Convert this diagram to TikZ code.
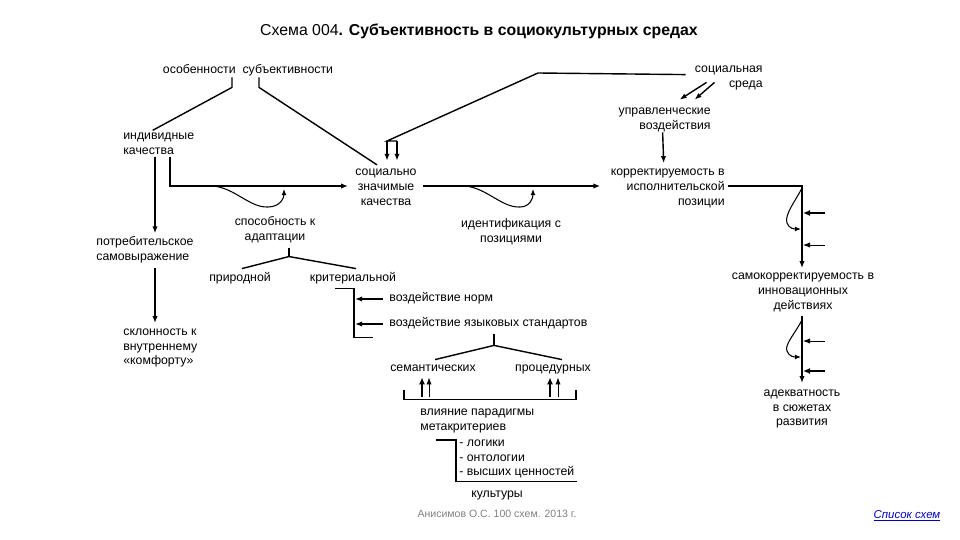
\documentclass[tikz,border=0pt]{standalone}
\usepackage{fontspec}
\setmainfont{Liberation Sans}
\usetikzlibrary{positioning, arrows.meta, calc}

\begin{document}
\begin{tikzpicture}[x=0.02cm, y=-0.02cm,
  lbl/.style={inner sep=0pt, font=\fontsize{7}{8.5}\selectfont, align=center},
  lbll/.style={lbl, align=left},
  lblr/.style={lbl, align=right},
  oneline/.style={lbl, text height=5.3pt, text depth=1.6pt},
  link/.style={line width=0.8pt},
  arr/.style={link, -{Latex[length=4pt, width=3pt]}},
  fatarr/.style={line width=1.5pt, -{Latex[length=4pt, width=3.5pt]}},
  slimarr/.style={line width=0.5pt, -{Latex[length=4pt, width=3pt]}},
  loop/.style={line width=0.6pt, -{Latex[length=3.5pt, width=2.8pt]}},
]
  \useasboundingbox (0,0) rectangle (960,540);

  % Title
  \node[lbl, font=\fontsize{9}{10}\selectfont] (title) at (479,31)
    {Схема 004\textbf{. Субъективность в социокультурных средах}};

  % Labels
  \node[oneline] (osob) at (248,70) {особенности\ \ субъективности};
  \node[lblr, anchor=east] (sreda) at (763,78) {социальная\\среда};
  \node[lblr, anchor=east] (upr) at (711,120) {управленческие\\воздействия};
  \node[lbll, anchor=west] (ind) at (123,143.5) {индивидные\\качества};
  \node[lbl] (soczn) at (386,187.5) {социально\\значимые\\качества};
  \node[lblr, anchor=east] (korr) at (725,188) {корректируемость в\\исполнительской\\позиции};
  \node[lbll, anchor=west] (potr) at (96,250) {потребительское\\самовыражение};
  \node[lbll, anchor=west] (sklon) at (123,348) {склонность к\\внутреннему\\«комфорту»};
  \node[lbl] (adapt) at (275,230) {способность к\\адаптации};
  \node[oneline] (prir) at (240,278) {природной};
  \node[oneline] (krit) at (353,278) {критериальной};
  \node[lbl] (ident) at (511,231.5) {идентификация с\\позициями};
  \node[oneline, anchor=west] (norm) at (389,298) {воздействие норм};
  \node[oneline, anchor=west] (lang) at (389,323) {воздействие языковых стандартов};
  \node[oneline] (sem) at (433,368) {семантических};
  \node[oneline] (proc) at (553,368) {процедурных};
  \node[lbll, anchor=west] (vliyan) at (420,420.5) {влияние парадигмы\\метакритериев};
  \node[lbll, anchor=west, font=\fontsize{7}{8.2}\selectfont] (meta) at (459,459)
    {- логики\\- онтологии\\- высших ценностей};
  \node[oneline] (kult) at (497,494) {культуры};
  \node[lbl] (samok) at (803,292) {самокорректируемость в\\инновационных\\действиях};
  \node[lbl] (adekv) at (802,409) {адекватность\\в сюжетах\\развития};

  % Footer
  \node[lbl, font=\fontsize{6}{7}\selectfont, text=gray] (author) at (497,514)
    {Анисимов О.С. 100 схем. 2013 г.};
  \node[lbl, font=\fontsize{6.5}{7}\selectfont\itshape, text=blue!75!black] (spisok) at (907,516)
    {\underline{Список схем}};

  % Top branches
  \draw[link] ($(osob.south)+(-16,1)$) -- ++(0,10) -- ($(ind.north)+(-6,-2)$);
  \draw[link] ($(osob.south)+(11,1)$) -- ++(0,10) -- ($(soczn.north)+(-9,-4)$);

  % Social environment
  \draw[link] ($(sreda.north west)+(-9,9)$) -- (538,73) -- (387,141) coordinate (fork) -- ++(10,0);
  \draw[arr] (fork) -- ($(soczn.north)+(1,-8)$);
  \draw[arr] ($(fork)+(10,0)$) -- ($(soczn.north)+(11,-8)$);
  \draw[arr] ($(sreda.south west)+(12,-8)$) -- ($(upr.north)+(15,-8)$);
  \draw[arr] ($(sreda.south west)+(20,-8)$) -- ($(upr.north)+(30,-8)$);
  \draw[arr] ($(upr.south)+(-2,0)$) -- ($(korr.north)+(-4,-5)$);

  % Left column
  \draw[arr] ($(ind.south west)+(32,2)$) -- ($(potr.north west)+(59,-3)$);
  \draw[arr] ($(potr.south west)+(59,4)$) -- ($(sklon.north west)+(32,-5)$);

  % Main line
  \draw[arr] ($(ind.south west)+(47,2)$) |- ($(soczn.west)+(-7,-1.5)$);
  \draw[loop] (213,186) .. controls (235,188) and (250,208) .. (268,207)
    .. controls (280,207) and (284,198) .. (284,189);
  \draw[arr] ($(soczn.east)+(6,-1.5)$) -- ($(korr.west)+(-10,-2)$);
  \draw[loop] (465,186) .. controls (487,188) and (502,208) .. (520,207)
    .. controls (530,207) and (533,198) .. (533,189);
  \draw[arr] ($(korr.east)+(3,-2)$) -| ($(samok.north)+(-1,-4)$);

  % Right column
  \draw[loop] (802,188) .. controls (796,200) and (784,215) .. (787,223)
    .. controls (789,229) and (795,229) .. (801,229);
  \draw[fatarr] (825,213) -- (803,213);
  \draw[slimarr] (825,245) -- (803,245);
  \draw[arr] ($(samok.south)+(-1,4)$) -- ($(adekv.north)+(0,-6)$);
  \draw[loop] (802,320) .. controls (796,332) and (784,345) .. (787,351)
    .. controls (789,357) and (795,357) .. (801,357);
  \draw[slimarr] (825,341) -- (803,341);
  \draw[fatarr] (825,371) -- (803,371);

  % Adaptation tree
  \draw[link] ($(adapt.south)+(14,4)$) -- ++(0,9) coordinate (adfork);
  \draw[link] ($(prir.north)+(2,-3)$) -- (adfork) -- ($(krit.north)+(3,-3)$);

  % Criteria bracket
  \draw[link] ($(krit.south)+(-18,4)$) -- ++(19,0) -- ++(0,49) -- ++(19,0);
  \draw[arr] ($(norm.west)+(-6,1)$) -- ($(norm.west)+(-34,1)$);
  \draw[arr] ($(lang.west)+(-6,1)$) -- ($(lang.west)+(-34,1)$);

  % Language standards tree
  \draw[link] ($(lang.south west)+(105,5)$) -- ++(0,11) coordinate (lgfork);
  \draw[link] ($(sem.north)+(2,-2)$) -- (lgfork) -- ($(proc.north)+(9,-2)$);

  % Paradigm bracket
  \draw[link] ($(sem.south west)+(14,16)$) -- ++(0,9) -| ($(proc.south east)+(-15,16)$);
  \draw[fatarr] ($(sem.south)+(-11,23)$) -- ($(sem.south)+(-11,3)$);
  \draw[slimarr] ($(sem.south)+(-4,23)$) -- ($(sem.south)+(-4,3)$);
  \draw[fatarr] ($(proc.south)+(-3,23)$) -- ($(proc.south)+(-3,3)$);
  \draw[slimarr] ($(proc.south)+(5,23)$) -- ($(proc.south)+(5,3)$);

  % Metacriteria bracket
  \draw[link] ($(vliyan.south west)+(16,7)$) -- ++(20,0) |- ($(meta.south east)+(2,3)$);
\end{tikzpicture}
\end{document}
